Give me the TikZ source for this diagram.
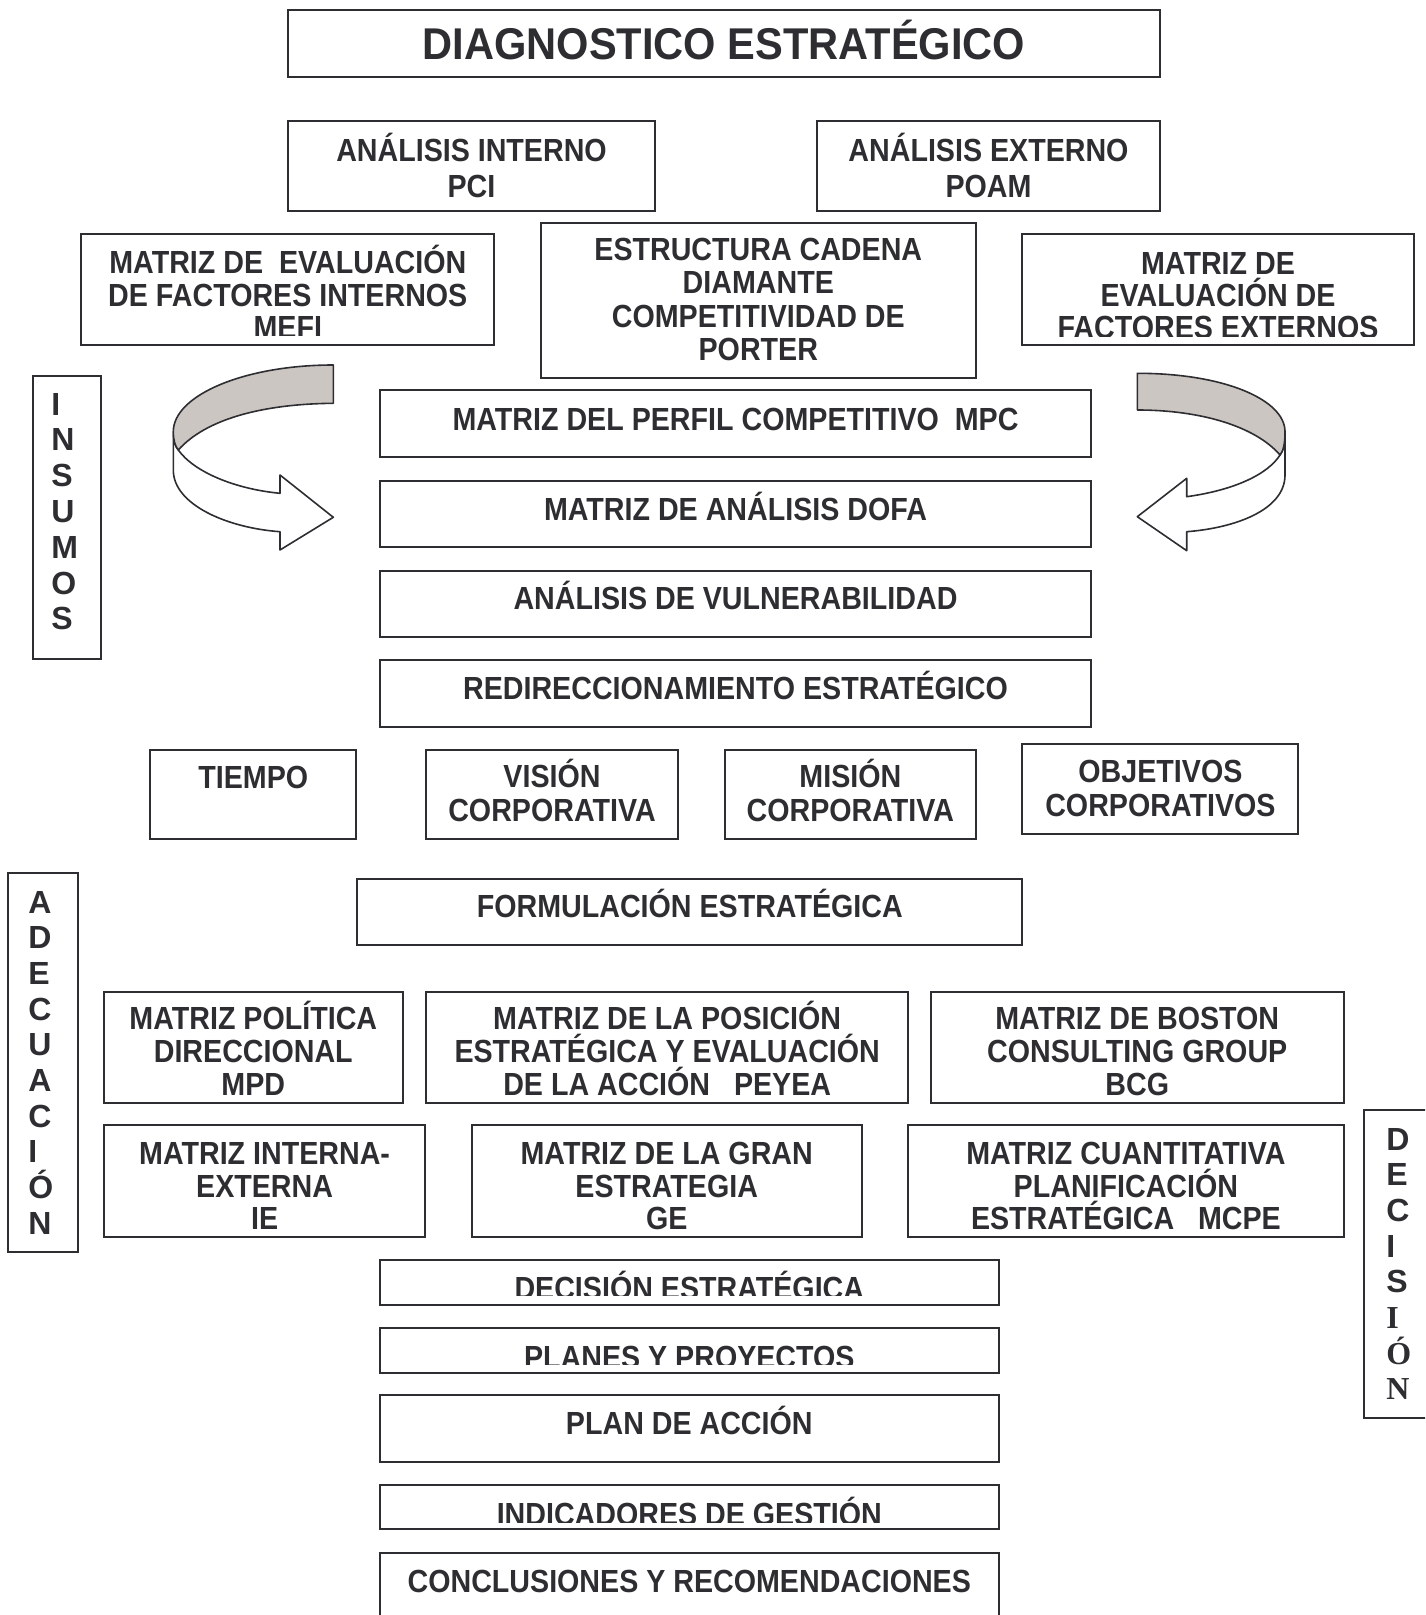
\documentclass[tikz,border=0pt]{standalone}
\usepackage{fontspec}
\newfontfamily\boxfont{Liberation Sans}[FakeStretch=0.895]
\newfontfamily\titlefont{Liberation Sans}[FakeStretch=0.935]
\newfontfamily\sidefont{Liberation Sans}
\newfontfamily\sideserif{Liberation Serif}

\definecolor{ink}{RGB}{46,46,50}
\definecolor{band}{RGB}{204,198,195}

\tikzset{
  frame/.style={draw=ink, line width=1pt, rectangle, inner sep=0pt, outer sep=0pt},
  txt/.style={anchor=base, inner sep=0pt, text=ink,
    font=\boxfont\bfseries\fontsize{16pt}{16pt}\selectfont},
  titletxt/.style={anchor=base, inner sep=0pt, text=ink,
    font=\titlefont\bfseries\fontsize{22.25pt}{22.25pt}\selectfont},
  sideletter/.style={anchor=base west, inner sep=0pt, text=ink,
    font=\sidefont\bfseries\fontsize{16pt}{16pt}\selectfont},
  ribbon/.style={draw=ink, line width=0.8pt, line join=round},
}

% framed box: name, x1, y1, x2, y2 (pixel units, y downwards)
\newcommand\frm[5]{%
  \node[frame, minimum width={(#4-#2)*0.5pt}, minimum height={(#5-#3)*0.5pt}]
    (#1) at ({(#2+#4)/2},{(#3+#5)/2}) {};}
% centred text lines: name, centre x, first baseline, line spacing, lines
\newcommand\lns[5]{%
  \foreach \s [count=\i] in {#5} {\node[txt] (#1-\i) at (#2,{#3+(\i-1)*#4}) {\s};}}

\begin{document}
\begin{tikzpicture}[x=0.5pt, y=-0.5pt]
\useasboundingbox (0,0) rectangle (1425,1615);
\clip (0,0) rectangle (1425,1615);

% ---- heading ----
\frm{title}{288}{10}{1160}{77}
\node[titletxt] (title-t) at (724,60) {DIAGNOSTICO ESTRATÉGICO};

% ---- analyses ----
\frm{pci}{288}{121.5}{655}{211}
\lns{pci}{471.5}{161.8}{36}{ANÁLISIS INTERNO,PCI}
\frm{poam}{816.5}{121.5}{1160}{211}
\lns{poam}{988.5}{161.8}{36}{ANÁLISIS EXTERNO,POAM}

\frm{mefi}{81.3}{233.7}{494.2}{345}
\begin{scope}
  \clip (81.3,233.7) rectangle (494.2,336);
  \lns{mefi}{287.8}{274}{32.2}{MATRIZ DE\ \ EVALUACIÓN,DE FACTORES INTERNOS,MEFI}
\end{scope}

\frm{porter}{540.5}{223.4}{976}{377.9}
\lns{porter}{758.3}{260.7}{33.3}{ESTRUCTURA CADENA,DIAMANTE,COMPETITIVIDAD DE,PORTER}

\frm{mefe}{1022.4}{233.7}{1413.5}{345}
\begin{scope}
  \clip (1022.4,233.7) rectangle (1413.5,337);
  \lns{mefe}{1218}{274.5}{32}{MATRIZ DE,EVALUACIÓN DE,FACTORES EXTERNOS}
\end{scope}

% ---- INSUMOS ----
\frm{insumos}{33}{375.8}{101}{659}
\foreach \s [count=\i] in {I,N,S,U,M,O,S}
  \node[sideletter] (insumos-\i) at (51,{415+(\i-1)*35.8}) {\s};

% ---- curved arrows ----
\path[ribbon, fill=white]
  (173.3,431.7) -- (173.3,470)
  .. controls (173.3,505) and (228,528) .. (280,531.7)
  -- (280,550) -- (333.3,517.3) -- (280,475) -- (280,493.3)
  .. controls (235,489) and (194,472) .. (178.3,450)
  .. controls (175,446) and (173.3,440) .. (173.3,431.7) -- cycle;
\path[ribbon, fill=band]
  (333.3,365) .. controls (245,365) and (173.3,395) .. (173.3,431.7)
  .. controls (173.3,440) and (175,446) .. (178.3,450)
  .. controls (205,420) and (260,404) .. (333.3,403.3) -- cycle;

\path[ribbon, fill=white]
  (1285,431.7) -- (1285,475)
  .. controls (1285,510) and (1235,528) .. (1186.7,531.7)
  -- (1186.7,550.7) -- (1137.3,516.7) -- (1186.7,478.3) -- (1186.7,496.7)
  .. controls (1235,490) and (1268,474) .. (1280,455)
  .. controls (1283,451) and (1285,445) .. (1285,431.7) -- cycle;
\path[ribbon, fill=band]
  (1137.3,373.3) .. controls (1225,373.3) and (1285,400) .. (1285,431.7)
  .. controls (1285,445) and (1283,451) .. (1280,455)
  .. controls (1255,426) and (1200,410) .. (1137.3,410) -- cycle;

% ---- central column ----
\frm{mpc}{380}{390}{1091}{457}
\lns{mpc}{735.5}{430.5}{0}{MATRIZ DEL PERFIL COMPETITIVO\ \ MPC}
\frm{dofa}{380}{481}{1091}{547}
\lns{dofa}{735.5}{520.5}{0}{MATRIZ DE ANÁLISIS DOFA}
\frm{vuln}{380}{571.4}{1091}{637.3}
\lns{vuln}{735.5}{609.5}{0}{ANÁLISIS DE VULNERABILIDAD}
\frm{redir}{380}{660}{1091}{727}
\lns{redir}{735.5}{699.5}{0}{REDIRECCIONAMIENTO ESTRATÉGICO}

% ---- corporate elements ----
\frm{tiempo}{150.3}{749.5}{356.2}{839}
\lns{tiempo}{253.3}{788.5}{0}{TIEMPO}
\frm{vision}{426.3}{749.5}{677.5}{839}
\lns{vision}{552}{787.5}{34}{VISIÓN,CORPORATIVA}
\frm{mision}{724.8}{749.5}{976}{839}
\lns{mision}{850.4}{787.5}{34}{MISIÓN,CORPORATIVA}
\frm{objetivos}{1022.4}{744.4}{1298.3}{834}
\lns{objetivos}{1160.4}{782.5}{34}{OBJETIVOS,CORPORATIVOS}

% ---- ADECUACIÓN ----
\frm{adecuacion}{8}{873}{78}{1252}
\foreach \s [count=\i] in {A,D,E,C,U,A,C,I,Ó,N}
  \node[sideletter] (adecuacion-\i) at (28,{913+(\i-1)*35.7}) {\s};

\frm{formulacion}{357.3}{879.3}{1022.4}{945.2}
\lns{formulacion}{689.8}{917.5}{0}{FORMULACIÓN ESTRATÉGICA}

% ---- matrices ----
\frm{mpd}{104}{991.5}{402.6}{1102.7}
\lns{mpd}{253.3}{1029.5}{33}{MATRIZ POLÍTICA,DIRECCIONAL,MPD}
\frm{peyea}{426.3}{991.5}{908.1}{1102.7}
\lns{peyea}{667.2}{1029.5}{33}{MATRIZ DE LA POSICIÓN,ESTRATÉGICA Y EVALUACIÓN,DE LA ACCIÓN\ \ \ PEYEA}
\frm{bcg}{930.8}{991.5}{1343.6}{1102.7}
\lns{bcg}{1137.2}{1029.5}{33}{MATRIZ DE BOSTON,CONSULTING GROUP,BCG}

\frm{ie}{104}{1125.3}{425.2}{1236.5}
\lns{ie}{264.6}{1164.5}{32.5}{MATRIZ INTERNA-,EXTERNA,IE}
\frm{ge}{471.6}{1125.3}{861.8}{1236.5}
\lns{ge}{666.7}{1164.5}{32.5}{MATRIZ DE LA GRAN,ESTRATEGIA,GE}
\frm{mcpe}{908.1}{1125.3}{1343.6}{1236.5}
\lns{mcpe}{1125.9}{1164.5}{32.5}{MATRIZ CUANTITATIVA,PLANIFICACIÓN,ESTRATÉGICA\ \ \ MCPE}

% ---- DECISIÓN ----
\frm{decision}{1363.5}{1110}{1445}{1418}
\foreach \s [count=\i] in {D,E,C,I,S,{\sideserif I},{\sideserif Ó},{\sideserif N}}
  \node[sideletter] (decision-\i) at (1386,{1150+(\i-1)*35.7}) {\s};

% ---- closing column ----
\frm{decest}{380}{1260}{998.7}{1304.5}
\begin{scope}
  \clip (380,1260) rectangle (998.7,1295);
  \lns{decest}{689.3}{1299}{0}{DECISIÓN ESTRATÉGICA}
\end{scope}
\frm{planes}{380}{1328.2}{998.7}{1372.5}
\begin{scope}
  \clip (380,1328.2) rectangle (998.7,1364);
  \lns{planes}{689.3}{1368}{0}{PLANES Y PROYECTOS}
\end{scope}
\frm{accion}{380}{1395}{998.7}{1462}
\lns{accion}{689.3}{1434.5}{0}{PLAN DE ACCIÓN}
\frm{indicadores}{380}{1484.7}{998.7}{1529}
\begin{scope}
  \clip (380,1484.7) rectangle (998.7,1522);
  \lns{indicadores}{689.3}{1525}{0}{INDICADORES DE GESTIÓN}
\end{scope}
\frm{conclusiones}{380}{1552.5}{998.7}{1640}
\lns{conclusiones}{689.3}{1592}{0}{CONCLUSIONES Y RECOMENDACIONES}
\end{tikzpicture}
\end{document}
